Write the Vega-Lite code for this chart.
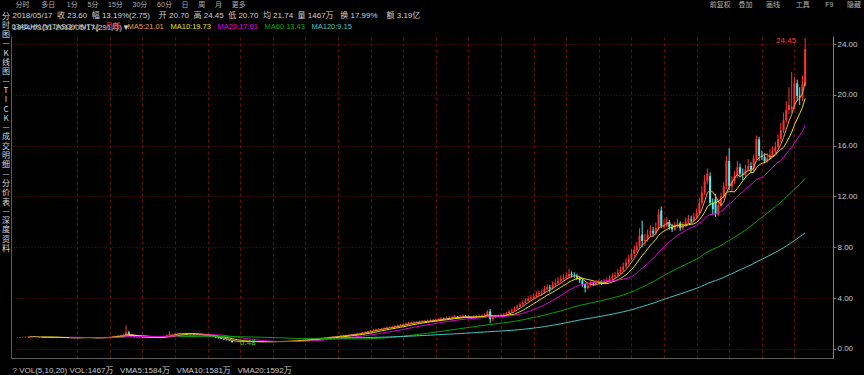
{
"$schema":"https://vega.github.io/schema/vega-lite/v6.json",
"width":822,"height":322,
"autosize":{"type":"none"},
"padding":{"left":11,"top":36,"right":31,"bottom":17},
"background":"#000000",
"config":{"view":{"stroke":null},"font":"Liberation Sans"},
"data":{"values":[
{"d":"1994-03","o":0.86,"h":0.90,"l":0.85,"c":0.88},
{"d":"1994-04","o":0.88,"h":0.94,"l":0.87,"c":0.92},
{"d":"1994-05","o":0.92,"h":0.97,"l":0.91,"c":0.95},
{"d":"1994-06","o":0.95,"h":0.96,"l":0.91,"c":0.93},
{"d":"1994-07","o":0.93,"h":0.99,"l":0.92,"c":0.97},
{"d":"1994-08","o":0.97,"h":1.03,"l":0.96,"c":1.00},
{"d":"1994-09","o":1.00,"h":1.01,"l":0.95,"c":0.96},
{"d":"1994-10","o":0.96,"h":0.97,"l":0.93,"c":0.94},
{"d":"1994-11","o":0.94,"h":0.95,"l":0.91,"c":0.92},
{"d":"1994-12","o":0.92,"h":0.93,"l":0.89,"c":0.90},
{"d":"1995-01","o":0.89,"h":0.92,"l":0.88,"c":0.90},
{"d":"1995-02","o":0.90,"h":0.93,"l":0.89,"c":0.92},
{"d":"1995-03","o":0.92,"h":0.96,"l":0.91,"c":0.94},
{"d":"1995-04","o":0.94,"h":0.95,"l":0.92,"c":0.93},
{"d":"1995-05","o":0.93,"h":0.94,"l":0.90,"c":0.91},
{"d":"1995-06","o":0.91,"h":0.92,"l":0.89,"c":0.90},
{"d":"1995-07","o":0.90,"h":0.91,"l":0.88,"c":0.89},
{"d":"1995-08","o":0.89,"h":0.92,"l":0.88,"c":0.90},
{"d":"1995-09","o":0.90,"h":0.91,"l":0.87,"c":0.88},
{"d":"1995-10","o":0.88,"h":0.89,"l":0.86,"c":0.87},
{"d":"1995-11","o":0.87,"h":0.88,"l":0.85,"c":0.86},
{"d":"1995-12","o":0.86,"h":0.89,"l":0.85,"c":0.88},
{"d":"1996-01","o":0.88,"h":0.91,"l":0.87,"c":0.89},
{"d":"1996-02","o":0.89,"h":0.92,"l":0.88,"c":0.90},
{"d":"1996-03","o":0.90,"h":0.94,"l":0.89,"c":0.92},
{"d":"1996-04","o":0.92,"h":0.93,"l":0.90,"c":0.91},
{"d":"1996-05","o":0.91,"h":0.92,"l":0.89,"c":0.90},
{"d":"1996-06","o":0.90,"h":0.91,"l":0.87,"c":0.88},
{"d":"1996-07","o":0.88,"h":0.89,"l":0.86,"c":0.87},
{"d":"1996-08","o":0.87,"h":0.88,"l":0.85,"c":0.86},
{"d":"1996-09","o":0.86,"h":0.89,"l":0.85,"c":0.88},
{"d":"1996-10","o":0.88,"h":0.92,"l":0.87,"c":0.90},
{"d":"1996-11","o":0.90,"h":0.93,"l":0.89,"c":0.91},
{"d":"1996-12","o":0.91,"h":0.95,"l":0.90,"c":0.93},
{"d":"1997-01","o":0.93,"h":0.97,"l":0.92,"c":0.95},
{"d":"1997-02","o":0.95,"h":1.00,"l":0.94,"c":0.98},
{"d":"1997-03","o":0.98,"h":1.05,"l":0.97,"c":1.02},
{"d":"1997-04","o":1.02,"h":1.08,"l":1.00,"c":1.05},
{"d":"1997-05","o":1.05,"h":1.12,"l":1.03,"c":1.08},
{"d":"1997-06","o":1.08,"h":1.18,"l":1.06,"c":1.12},
{"d":"1997-07","o":1.12,"h":1.85,"l":1.10,"c":1.30},
{"d":"1997-08","o":1.30,"h":1.42,"l":1.08,"c":1.15},
{"d":"1997-09","o":1.15,"h":1.18,"l":0.98,"c":1.02},
{"d":"1997-10","o":1.02,"h":1.05,"l":0.90,"c":0.95},
{"d":"1997-11","o":0.95,"h":0.98,"l":0.91,"c":0.93},
{"d":"1997-12","o":0.93,"h":0.95,"l":0.90,"c":0.92},
{"d":"1998-01","o":0.92,"h":0.94,"l":0.87,"c":0.90},
{"d":"1998-02","o":0.90,"h":0.94,"l":0.89,"c":0.92},
{"d":"1998-03","o":0.92,"h":0.93,"l":0.88,"c":0.90},
{"d":"1998-04","o":0.90,"h":0.91,"l":0.86,"c":0.88},
{"d":"1998-05","o":0.88,"h":0.92,"l":0.87,"c":0.90},
{"d":"1998-06","o":0.90,"h":0.94,"l":0.89,"c":0.92},
{"d":"1998-07","o":0.92,"h":0.96,"l":0.91,"c":0.94},
{"d":"1998-08","o":0.94,"h":0.95,"l":0.90,"c":0.93},
{"d":"1998-09","o":0.93,"h":1.03,"l":0.92,"c":1.00},
{"d":"1998-10","o":1.00,"h":1.12,"l":0.99,"c":1.08},
{"d":"1998-11","o":1.08,"h":1.40,"l":1.06,"c":1.15},
{"d":"1998-12","o":1.15,"h":1.22,"l":1.12,"c":1.18},
{"d":"1999-01","o":1.18,"h":1.24,"l":1.15,"c":1.20},
{"d":"1999-02","o":1.20,"h":1.26,"l":1.17,"c":1.22},
{"d":"1999-03","o":1.22,"h":1.24,"l":1.15,"c":1.18},
{"d":"1999-04","o":1.18,"h":1.24,"l":1.16,"c":1.20},
{"d":"1999-05","o":1.20,"h":1.30,"l":1.18,"c":1.25},
{"d":"1999-06","o":1.25,"h":1.27,"l":1.19,"c":1.22},
{"d":"1999-07","o":1.22,"h":1.23,"l":1.15,"c":1.18},
{"d":"1999-08","o":1.18,"h":1.20,"l":1.12,"c":1.15},
{"d":"1999-09","o":1.15,"h":1.17,"l":1.09,"c":1.12},
{"d":"1999-10","o":1.12,"h":1.14,"l":1.07,"c":1.10},
{"d":"1999-11","o":1.10,"h":1.12,"l":1.05,"c":1.08},
{"d":"1999-12","o":1.08,"h":1.10,"l":1.02,"c":1.05},
{"d":"2000-01","o":1.05,"h":1.08,"l":0.99,"c":1.02},
{"d":"2000-02","o":1.02,"h":1.04,"l":0.95,"c":0.98},
{"d":"2000-03","o":0.98,"h":1.00,"l":0.92,"c":0.95},
{"d":"2000-04","o":0.95,"h":0.97,"l":0.87,"c":0.90},
{"d":"2000-05","o":0.90,"h":0.92,"l":0.82,"c":0.85},
{"d":"2000-06","o":0.85,"h":0.87,"l":0.77,"c":0.80},
{"d":"2000-07","o":0.80,"h":0.82,"l":0.72,"c":0.75},
{"d":"2000-08","o":0.75,"h":0.77,"l":0.67,"c":0.70},
{"d":"2000-09","o":0.70,"h":0.72,"l":0.62,"c":0.65},
{"d":"2000-10","o":0.65,"h":0.67,"l":0.48,"c":0.55},
{"d":"2000-11","o":0.55,"h":0.59,"l":0.52,"c":0.56},
{"d":"2000-12","o":0.56,"h":0.61,"l":0.54,"c":0.58},
{"d":"2001-01","o":0.57,"h":0.61,"l":0.56,"c":0.58},
{"d":"2001-02","o":0.58,"h":0.63,"l":0.57,"c":0.60},
{"d":"2001-03","o":0.60,"h":0.65,"l":0.59,"c":0.62},
{"d":"2001-04","o":0.62,"h":0.63,"l":0.58,"c":0.60},
{"d":"2001-05","o":0.60,"h":0.61,"l":0.56,"c":0.58},
{"d":"2001-06","o":0.58,"h":0.59,"l":0.55,"c":0.57},
{"d":"2001-07","o":0.57,"h":0.58,"l":0.54,"c":0.56},
{"d":"2001-08","o":0.56,"h":0.57,"l":0.53,"c":0.55},
{"d":"2001-09","o":0.55,"h":0.58,"l":0.53,"c":0.56},
{"d":"2001-10","o":0.56,"h":0.59,"l":0.55,"c":0.57},
{"d":"2001-11","o":0.57,"h":0.60,"l":0.56,"c":0.58},
{"d":"2001-12","o":0.59,"h":0.60,"l":0.56,"c":0.58},
{"d":"2002-01","o":0.58,"h":0.61,"l":0.57,"c":0.59},
{"d":"2002-02","o":0.59,"h":0.62,"l":0.58,"c":0.60},
{"d":"2002-03","o":0.60,"h":0.63,"l":0.59,"c":0.61},
{"d":"2002-04","o":0.61,"h":0.62,"l":0.58,"c":0.60},
{"d":"2002-05","o":0.60,"h":0.61,"l":0.57,"c":0.59},
{"d":"2002-06","o":0.59,"h":0.62,"l":0.58,"c":0.60},
{"d":"2002-07","o":0.60,"h":0.64,"l":0.59,"c":0.62},
{"d":"2002-08","o":0.62,"h":0.66,"l":0.61,"c":0.64},
{"d":"2002-09","o":0.64,"h":0.68,"l":0.63,"c":0.66},
{"d":"2002-10","o":0.66,"h":0.70,"l":0.65,"c":0.68},
{"d":"2002-11","o":0.68,"h":0.72,"l":0.67,"c":0.70},
{"d":"2002-12","o":0.70,"h":0.74,"l":0.69,"c":0.72},
{"d":"2003-01","o":0.72,"h":0.76,"l":0.71,"c":0.74},
{"d":"2003-02","o":0.74,"h":0.78,"l":0.73,"c":0.76},
{"d":"2003-03","o":0.76,"h":0.80,"l":0.74,"c":0.78},
{"d":"2003-04","o":0.78,"h":0.82,"l":0.76,"c":0.80},
{"d":"2003-05","o":0.80,"h":0.85,"l":0.79,"c":0.83},
{"d":"2003-06","o":0.83,"h":0.88,"l":0.82,"c":0.86},
{"d":"2003-07","o":0.86,"h":0.90,"l":0.84,"c":0.88},
{"d":"2003-08","o":0.88,"h":0.92,"l":0.86,"c":0.90},
{"d":"2003-09","o":0.90,"h":0.94,"l":0.88,"c":0.92},
{"d":"2003-10","o":0.92,"h":0.97,"l":0.91,"c":0.95},
{"d":"2003-11","o":0.95,"h":1.00,"l":0.93,"c":0.98},
{"d":"2003-12","o":0.98,"h":1.02,"l":0.96,"c":1.00},
{"d":"2004-01","o":1.00,"h":1.05,"l":0.98,"c":1.02},
{"d":"2004-02","o":1.02,"h":1.08,"l":1.00,"c":1.05},
{"d":"2004-03","o":1.05,"h":1.11,"l":1.03,"c":1.08},
{"d":"2004-04","o":1.08,"h":1.13,"l":1.05,"c":1.10},
{"d":"2004-05","o":1.10,"h":1.15,"l":1.07,"c":1.12},
{"d":"2004-06","o":1.12,"h":1.18,"l":1.10,"c":1.15},
{"d":"2004-07","o":1.15,"h":1.21,"l":1.13,"c":1.18},
{"d":"2004-08","o":1.18,"h":1.25,"l":1.16,"c":1.22},
{"d":"2004-09","o":1.22,"h":1.28,"l":1.20,"c":1.25},
{"d":"2004-10","o":1.25,"h":1.34,"l":1.23,"c":1.30},
{"d":"2004-11","o":1.30,"h":1.39,"l":1.28,"c":1.35},
{"d":"2004-12","o":1.35,"h":1.44,"l":1.33,"c":1.40},
{"d":"2005-01","o":1.40,"h":1.49,"l":1.37,"c":1.45},
{"d":"2005-02","o":1.45,"h":1.55,"l":1.42,"c":1.50},
{"d":"2005-03","o":1.50,"h":1.60,"l":1.47,"c":1.55},
{"d":"2005-04","o":1.55,"h":1.63,"l":1.51,"c":1.58},
{"d":"2005-05","o":1.58,"h":1.66,"l":1.54,"c":1.60},
{"d":"2005-06","o":1.60,"h":1.70,"l":1.57,"c":1.65},
{"d":"2005-07","o":1.65,"h":1.76,"l":1.62,"c":1.70},
{"d":"2005-08","o":1.70,"h":1.78,"l":1.66,"c":1.72},
{"d":"2005-09","o":1.72,"h":1.81,"l":1.68,"c":1.75},
{"d":"2005-10","o":1.75,"h":1.86,"l":1.71,"c":1.80},
{"d":"2005-11","o":1.80,"h":1.91,"l":1.76,"c":1.85},
{"d":"2005-12","o":1.85,"h":1.96,"l":1.81,"c":1.90},
{"d":"2006-01","o":1.90,"h":2.02,"l":1.86,"c":1.95},
{"d":"2006-02","o":1.95,"h":2.07,"l":1.90,"c":2.00},
{"d":"2006-03","o":2.00,"h":2.12,"l":1.95,"c":2.05},
{"d":"2006-04","o":2.05,"h":2.15,"l":2.00,"c":2.08},
{"d":"2006-05","o":2.08,"h":2.18,"l":2.02,"c":2.10},
{"d":"2006-06","o":2.10,"h":2.20,"l":2.04,"c":2.12},
{"d":"2006-07","o":2.12,"h":2.23,"l":2.06,"c":2.15},
{"d":"2006-08","o":2.15,"h":2.26,"l":2.10,"c":2.18},
{"d":"2006-09","o":2.18,"h":2.28,"l":2.12,"c":2.20},
{"d":"2006-10","o":2.20,"h":2.31,"l":2.14,"c":2.22},
{"d":"2006-11","o":2.22,"h":2.34,"l":2.16,"c":2.25},
{"d":"2006-12","o":2.25,"h":2.37,"l":2.19,"c":2.28},
{"d":"2007-01","o":2.28,"h":2.40,"l":2.22,"c":2.30},
{"d":"2007-02","o":2.30,"h":2.45,"l":2.24,"c":2.35},
{"d":"2007-03","o":2.35,"h":2.52,"l":2.29,"c":2.40},
{"d":"2007-04","o":2.40,"h":2.48,"l":2.31,"c":2.38},
{"d":"2007-05","o":2.38,"h":2.54,"l":2.33,"c":2.42},
{"d":"2007-06","o":2.42,"h":2.58,"l":2.36,"c":2.45},
{"d":"2007-07","o":2.45,"h":2.64,"l":2.40,"c":2.50},
{"d":"2007-08","o":2.50,"h":2.70,"l":2.44,"c":2.55},
{"d":"2007-09","o":2.55,"h":2.60,"l":2.38,"c":2.48},
{"d":"2007-10","o":2.48,"h":2.65,"l":2.42,"c":2.52},
{"d":"2007-11","o":2.52,"h":2.72,"l":2.47,"c":2.58},
{"d":"2007-12","o":2.58,"h":2.66,"l":2.46,"c":2.55},
{"d":"2008-01","o":2.55,"h":2.62,"l":2.40,"c":2.50},
{"d":"2008-02","o":2.50,"h":2.56,"l":2.36,"c":2.45},
{"d":"2008-03","o":2.45,"h":2.63,"l":2.40,"c":2.52},
{"d":"2008-04","o":2.52,"h":2.66,"l":2.47,"c":2.55},
{"d":"2008-05","o":2.55,"h":2.72,"l":2.50,"c":2.60},
{"d":"2008-06","o":2.60,"h":2.74,"l":2.54,"c":2.63},
{"d":"2008-07","o":2.63,"h":2.80,"l":2.58,"c":2.67},
{"d":"2008-08","o":2.67,"h":3.05,"l":2.62,"c":2.95},
{"d":"2008-09","o":2.95,"h":3.15,"l":2.05,"c":2.35},
{"d":"2008-10","o":2.35,"h":2.62,"l":2.20,"c":2.50},
{"d":"2008-11","o":2.50,"h":2.66,"l":2.42,"c":2.55},
{"d":"2008-12","o":2.55,"h":2.70,"l":2.48,"c":2.60},
{"d":"2009-01","o":2.60,"h":2.76,"l":2.52,"c":2.65},
{"d":"2009-02","o":2.65,"h":2.82,"l":2.56,"c":2.70},
{"d":"2009-03","o":2.70,"h":2.92,"l":2.62,"c":2.80},
{"d":"2009-04","o":2.80,"h":3.08,"l":2.74,"c":2.95},
{"d":"2009-05","o":2.95,"h":3.18,"l":2.88,"c":3.05},
{"d":"2009-06","o":3.05,"h":3.34,"l":2.98,"c":3.20},
{"d":"2009-07","o":3.20,"h":3.50,"l":3.12,"c":3.35},
{"d":"2009-08","o":3.35,"h":3.66,"l":3.27,"c":3.50},
{"d":"2009-09","o":3.50,"h":3.82,"l":3.42,"c":3.65},
{"d":"2009-10","o":3.65,"h":3.98,"l":3.56,"c":3.80},
{"d":"2009-11","o":3.80,"h":4.15,"l":3.72,"c":3.95},
{"d":"2009-12","o":3.95,"h":4.26,"l":3.85,"c":4.05},
{"d":"2010-01","o":4.05,"h":4.38,"l":3.94,"c":4.15},
{"d":"2010-02","o":4.15,"h":4.52,"l":4.06,"c":4.30},
{"d":"2010-03","o":4.30,"h":4.62,"l":4.20,"c":4.40},
{"d":"2010-04","o":4.40,"h":4.70,"l":4.18,"c":4.45},
{"d":"2010-05","o":4.45,"h":4.95,"l":4.36,"c":4.70},
{"d":"2010-06","o":4.70,"h":5.10,"l":4.60,"c":4.85},
{"d":"2010-07","o":4.85,"h":5.05,"l":4.45,"c":4.75},
{"d":"2010-08","o":4.75,"h":5.30,"l":4.66,"c":5.05},
{"d":"2010-09","o":5.05,"h":5.48,"l":4.95,"c":5.20},
{"d":"2010-10","o":5.20,"h":5.65,"l":5.08,"c":5.35},
{"d":"2010-11","o":5.35,"h":5.80,"l":5.22,"c":5.50},
{"d":"2010-12","o":5.50,"h":5.88,"l":5.38,"c":5.60},
{"d":"2011-01","o":5.60,"h":6.02,"l":5.46,"c":5.70},
{"d":"2011-02","o":5.70,"h":6.30,"l":5.58,"c":5.90},
{"d":"2011-03","o":5.90,"h":6.10,"l":5.62,"c":5.80},
{"d":"2011-04","o":5.80,"h":6.05,"l":5.60,"c":5.75},
{"d":"2011-05","o":5.75,"h":5.92,"l":5.42,"c":5.60},
{"d":"2011-06","o":5.60,"h":5.72,"l":5.20,"c":5.40},
{"d":"2011-07","o":5.40,"h":5.52,"l":4.90,"c":5.10},
{"d":"2011-08","o":5.10,"h":5.20,"l":4.45,"c":4.80},
{"d":"2011-09","o":4.80,"h":5.22,"l":4.68,"c":5.00},
{"d":"2011-10","o":5.00,"h":5.38,"l":4.90,"c":5.15},
{"d":"2011-11","o":5.15,"h":5.30,"l":4.95,"c":5.10},
{"d":"2011-12","o":5.10,"h":5.42,"l":5.02,"c":5.20},
{"d":"2012-01","o":5.20,"h":5.48,"l":5.10,"c":5.25},
{"d":"2012-02","o":5.25,"h":5.40,"l":5.02,"c":5.15},
{"d":"2012-03","o":5.15,"h":5.52,"l":5.08,"c":5.30},
{"d":"2012-04","o":5.30,"h":5.62,"l":5.20,"c":5.40},
{"d":"2012-05","o":5.40,"h":5.78,"l":5.30,"c":5.55},
{"d":"2012-06","o":5.55,"h":5.95,"l":5.45,"c":5.70},
{"d":"2012-07","o":5.70,"h":6.05,"l":5.58,"c":5.80},
{"d":"2012-08","o":5.80,"h":6.28,"l":5.70,"c":6.00},
{"d":"2012-09","o":6.00,"h":6.48,"l":5.88,"c":6.20},
{"d":"2012-10","o":6.20,"h":6.80,"l":6.10,"c":6.50},
{"d":"2012-11","o":6.50,"h":7.12,"l":6.38,"c":6.80},
{"d":"2012-12","o":6.80,"h":7.42,"l":6.66,"c":7.10},
{"d":"2013-01","o":7.10,"h":7.85,"l":6.98,"c":7.50},
{"d":"2013-02","o":7.50,"h":8.15,"l":7.30,"c":7.80},
{"d":"2013-03","o":7.80,"h":8.45,"l":7.62,"c":8.10},
{"d":"2013-04","o":8.10,"h":9.50,"l":7.95,"c":8.90},
{"d":"2013-05","o":9.00,"h":10.10,"l":8.00,"c":8.50},
{"d":"2013-06","o":8.50,"h":9.05,"l":8.10,"c":8.60},
{"d":"2013-07","o":8.60,"h":9.40,"l":8.45,"c":9.00},
{"d":"2013-08","o":9.00,"h":9.75,"l":8.80,"c":9.30},
{"d":"2013-09","o":9.30,"h":9.60,"l":8.85,"c":9.10},
{"d":"2013-10","o":9.10,"h":9.95,"l":8.95,"c":9.50},
{"d":"2013-11","o":9.50,"h":11.00,"l":9.40,"c":10.60},
{"d":"2013-12","o":10.90,"h":11.20,"l":9.50,"c":9.70},
{"d":"2014-01","o":9.60,"h":10.20,"l":9.45,"c":9.70},
{"d":"2014-02","o":9.70,"h":10.40,"l":9.55,"c":10.00},
{"d":"2014-03","o":10.00,"h":10.15,"l":9.40,"c":9.60},
{"d":"2014-04","o":9.60,"h":9.85,"l":9.20,"c":9.40},
{"d":"2014-05","o":9.40,"h":10.00,"l":9.30,"c":9.70},
{"d":"2014-06","o":9.70,"h":10.25,"l":9.55,"c":9.90},
{"d":"2014-07","o":9.90,"h":10.05,"l":9.30,"c":9.50},
{"d":"2014-08","o":9.50,"h":10.00,"l":9.35,"c":9.70},
{"d":"2014-09","o":9.70,"h":10.35,"l":9.60,"c":10.00},
{"d":"2014-10","o":10.00,"h":10.55,"l":9.85,"c":10.20},
{"d":"2014-11","o":10.20,"h":10.50,"l":9.90,"c":10.10},
{"d":"2014-12","o":10.10,"h":10.70,"l":9.95,"c":10.40},
{"d":"2015-01","o":10.40,"h":11.05,"l":10.25,"c":10.70},
{"d":"2015-02","o":10.70,"h":11.90,"l":10.55,"c":11.50},
{"d":"2015-03","o":11.50,"h":12.80,"l":11.35,"c":12.30},
{"d":"2015-04","o":12.30,"h":13.70,"l":12.10,"c":13.20},
{"d":"2015-05","o":13.20,"h":14.20,"l":12.95,"c":13.80},
{"d":"2015-06","o":13.60,"h":13.90,"l":11.30,"c":11.50},
{"d":"2015-07","o":11.50,"h":11.85,"l":10.60,"c":11.00},
{"d":"2015-08","o":11.80,"h":12.20,"l":10.40,"c":10.60},
{"d":"2015-09","o":10.60,"h":11.60,"l":10.45,"c":11.30},
{"d":"2015-10","o":11.30,"h":12.30,"l":11.15,"c":12.00},
{"d":"2015-11","o":12.00,"h":13.10,"l":11.85,"c":12.80},
{"d":"2015-12","o":12.80,"h":15.20,"l":12.60,"c":14.80},
{"d":"2016-01","o":14.80,"h":15.80,"l":12.50,"c":12.80},
{"d":"2016-02","o":12.80,"h":13.60,"l":12.40,"c":13.20},
{"d":"2016-03","o":13.20,"h":14.00,"l":13.00,"c":13.60},
{"d":"2016-04","o":13.60,"h":14.80,"l":13.45,"c":14.30},
{"d":"2016-05","o":14.30,"h":14.60,"l":13.50,"c":13.80},
{"d":"2016-06","o":13.80,"h":14.20,"l":13.30,"c":13.70},
{"d":"2016-07","o":13.70,"h":14.50,"l":13.55,"c":14.10},
{"d":"2016-08","o":14.10,"h":14.95,"l":13.95,"c":14.40},
{"d":"2016-09","o":14.40,"h":14.70,"l":13.85,"c":14.10},
{"d":"2016-10","o":14.10,"h":15.30,"l":13.95,"c":15.00},
{"d":"2016-11","o":15.00,"h":16.80,"l":14.85,"c":16.50},
{"d":"2016-12","o":16.50,"h":16.70,"l":14.80,"c":15.20},
{"d":"2017-01","o":15.20,"h":15.60,"l":14.85,"c":15.10},
{"d":"2017-02","o":15.10,"h":15.40,"l":14.60,"c":14.80},
{"d":"2017-03","o":14.80,"h":15.40,"l":14.65,"c":15.00},
{"d":"2017-04","o":15.00,"h":15.70,"l":14.85,"c":15.30},
{"d":"2017-05","o":15.30,"h":15.95,"l":15.10,"c":15.60},
{"d":"2017-06","o":15.60,"h":16.30,"l":15.40,"c":15.90},
{"d":"2017-07","o":15.90,"h":16.90,"l":15.70,"c":16.50},
{"d":"2017-08","o":16.50,"h":17.80,"l":16.30,"c":17.20},
{"d":"2017-09","o":17.20,"h":18.60,"l":17.00,"c":18.00},
{"d":"2017-10","o":18.00,"h":19.50,"l":17.80,"c":18.80},
{"d":"2017-11","o":18.80,"h":20.60,"l":18.50,"c":19.20},
{"d":"2017-12","o":18.90,"h":21.80,"l":18.60,"c":19.05},
{"d":"2018-01","o":19.05,"h":21.40,"l":18.90,"c":20.90},
{"d":"2018-02","o":20.90,"h":21.20,"l":19.50,"c":19.90},
{"d":"2018-03","o":19.90,"h":20.60,"l":19.20,"c":19.80},
{"d":"2018-04","o":19.80,"h":21.50,"l":19.50,"c":20.85},
{"d":"2018-05","o":20.70,"h":24.45,"l":20.70,"c":23.60}
]},
"layer":[
{"mark":{"type":"rule","strokeWidth":1},
 "encoding":{
  "x":{"field":"d","type":"temporal",
       "scale":{"type":"utc","domain":[{"year":1994,"month":2,"date":14,"utc":true},{"year":2019,"month":1,"date":12,"utc":true}]},
       "axis":{"orient":"top","values":[{"year":1996,"month":1,"date":1,"utc":true},{"year":1997,"month":1,"date":1,"utc":true},{"year":1998,"month":1,"date":1,"utc":true},{"year":1999,"month":1,"date":1,"utc":true},{"year":2000,"month":1,"date":1,"utc":true},{"year":2001,"month":1,"date":1,"utc":true},{"year":2002,"month":1,"date":1,"utc":true},{"year":2003,"month":1,"date":1,"utc":true},{"year":2004,"month":1,"date":1,"utc":true},{"year":2005,"month":1,"date":1,"utc":true},{"year":2006,"month":1,"date":1,"utc":true},{"year":2007,"month":1,"date":1,"utc":true},{"year":2008,"month":1,"date":1,"utc":true},{"year":2009,"month":1,"date":1,"utc":true},{"year":2010,"month":1,"date":1,"utc":true},{"year":2011,"month":1,"date":1,"utc":true},{"year":2012,"month":1,"date":1,"utc":true},{"year":2013,"month":1,"date":1,"utc":true},{"year":2014,"month":1,"date":1,"utc":true},{"year":2015,"month":1,"date":1,"utc":true},{"year":2016,"month":1,"date":1,"utc":true},{"year":2017,"month":1,"date":1,"utc":true},{"year":2018,"month":1,"date":1,"utc":true}],
               "grid":true,"gridColor":"#6a0c0c","gridDash":[3,3],"gridWidth":1,"labels":false,"ticks":false,"domain":false,
               "title":["2018/05/17\u00a0\u00a0收\u00a023.60\u00a0\u00a0幅\u00a013.19%(2.75)\u00a0\u00a0\u00a0\u00a0开\u00a020.70\u00a0\u00a0高\u00a024.45\u00a0\u00a0低\u00a020.70\u00a0\u00a0均\u00a021.74\u00a0\u00a0量\u00a01467万\u00a0\u00a0\u00a0换\u00a017.99%\u00a0\u00a0\u00a0\u00a0额\u00a03.19亿",
                        "\u3000\u3000\u3000\u3000\u3000\u3000\u3000\u3000\u3000\u3000\u3000\u3000\u3000\u3000\u3000\u3000\u3000\u3000\u3000\u3000\u3000\u3000\u3000\u3000\u3000\u3000\u3000\u3000\u3000\u3000\u3000\u3000\u3000\u3000\u3000\u3000\u3000\u3000\u3000\u3000\u3000\u3000\u3000\u3000\u3000\u3000\u3000\u3000\u3000\u3000\u3000\u3000\u3000\u3000\u3000\u3000\u3000\u3000\u3000\u3000\u3000\u3000\u3000\u3000\u3000\u3000\u3000\u3000\u3000\u3000\u3000\u3000\u3000\u3000\u3000\u3000\u3000\u3000\u3000\u3000\u3000\u3000\u3000\u3000\u3000\u3000\u00a0\u00a0\u00a01994/03/31-2018/05/17(291月)▼"],
               "titleX":1,"titleY":-25,"titleAlign":"left","titleBaseline":"top","titleLineHeight":12,"titleColor":"#d0d0d0","titleFont":"Liberation Sans, Noto Sans CJK SC","titleFontSize":8,"titleFontWeight":"normal","titleLimit":2000}},
  "y":{"field":"l","type":"quantitative",
       "scale":{"domain":[-0.71,24.63],"nice":false,"zero":false},
       "axis":{"orient":"right","values":[0,4,8,12,16,20,24],"format":".2f","grid":true,"gridColor":"#6a0c0c","gridDash":[1,2],"gridWidth":1,
               "labelColor":"#c8c8c8","labelFontSize":8,"labelFont":"Liberation Sans","labelPadding":1,"tickSize":3,"tickColor":"#808080","domainColor":"#808080",
               "title":"分时\u00a0\u00a0\u00a0\u00a0\u00a0\u00a0多日\u00a0\u00a0\u00a0\u00a0\u00a0\u00a01分\u00a0\u00a0\u00a0\u00a0\u00a05分\u00a0\u00a0\u00a0\u00a0\u00a015分\u00a0\u00a0\u00a0\u00a0\u00a030分\u00a0\u00a0\u00a0\u00a0\u00a060分\u00a0\u00a0\u00a0\u00a0\u00a0日\u00a0\u00a0\u00a0\u00a0\u00a0周\u00a0\u00a0\u00a0\u00a0\u00a0月\u00a0\u00a0\u00a0\u00a0\u00a0更多\u3000\u3000\u3000\u3000\u3000\u3000\u3000\u3000\u3000\u3000\u3000\u3000\u3000\u3000\u3000\u3000\u3000\u3000\u3000\u3000\u3000\u3000\u3000\u3000\u3000\u3000\u3000\u3000\u3000\u3000\u3000\u3000\u3000\u3000\u3000\u3000\u3000\u3000\u3000\u3000\u3000\u3000\u3000\u3000\u3000\u3000\u3000\u3000\u3000\u3000\u3000\u3000\u3000\u3000\u3000\u3000\u3000\u3000\u3000\u3000\u3000\u3000\u3000\u3000\u3000\u3000\u00a0前复权\u00a0\u00a0\u00a0\u00a0叠加\u00a0\u00a0\u00a0\u00a0\u00a0\u00a0\u00a0画线\u00a0\u00a0\u00a0\u00a0\u00a0\u00a0\u00a0\u00a0工具\u00a0\u00a0\u00a0\u00a0\u00a0\u00a0\u00a0\u00a0F9\u00a0\u00a0\u00a0\u00a0\u00a0\u00a0\u00a0隐藏",
               "titleAngle":0,"titleX":-818,"titleY":-31.5,"titleAlign":"left","titleBaseline":"middle","titleColor":"#b4b4b4","titleFont":"Liberation Sans, Noto Sans CJK SC","titleFontSize":7,"titleFontWeight":"normal","titleLimit":2000}},
  "y2":{"field":"h"},
  "color":{"condition":{"test":"datum.c >= datum.o","value":"#ff3030"},"value":"#50f0f0"}
 }},
{"mark":{"type":"bar","size":2},
 "encoding":{
  "x":{"field":"d","type":"temporal","axis":{"orient":"bottom","labels":false,"ticks":false,"grid":false,"domain":true,"domainColor":"#5a5a5a",
       "title":"?\u00a0VOL(5,10,20)\u00a0VOL:1467万\u00a0\u00a0\u00a0VMA5:1584万\u00a0\u00a0\u00a0VMA10:1581万\u00a0\u00a0\u00a0VMA20:1592万",
       "titleX":1,"titleY":12,"titleAlign":"left","titleBaseline":"middle","titleColor":"#c8c8c8","titleFont":"Liberation Sans, Noto Sans CJK SC","titleFontSize":8,"titleFontWeight":"normal"}},
  "y":{"field":"o","type":"quantitative",
       "axis":{"orient":"left","labels":false,"ticks":false,"grid":false,"domain":true,"domainColor":"#5a5a5a",
               "title":["分","时","图","—","K","线","图","—","T","I","C","K","—","成","交","明","细","—","分","价","表","—","深","度","资","料"],
               "titleAngle":0,"titleX":-5.5,"titleY":-24,"titleAlign":"center","titleBaseline":"top","titleColor":"#d8d8d8","titleFont":"Noto Sans CJK SC","titleFontSize":8,"titleLineHeight":9.3,"titleFontWeight":"normal"}},
  "y2":{"field":"c"},
  "color":{"condition":{"test":"datum.c >= datum.o","value":"#ff3030"},"value":"#50f0f0"}
 }},
{"transform":[{"window":[{"op":"mean","field":"c","as":"m"},{"op":"count","as":"n"}],"frame":[-4,0],"sort":[{"field":"d"}]},{"filter":"datum.n >= 5"}],
 "mark":{"type":"line","strokeWidth":1},
 "encoding":{
  "x":{"field":"d","type":"temporal","axis":null},
  "y":{"field":"m","type":"quantitative","axis":null},
  "color":{"datum":"MA5:21.01","type":"nominal",
    "scale":{"domain":["0345.HK [VITASOY INT'L]","月线","MA5:21.01","MA10:19.73","MA20:17.61","MA60:13.43","MA120:9.15"],
             "range":["#c8c8c8","#ff4040","#e8a050","#e6e600","#e000e0","#00a800","#48c8c8"]},
    "legend":{"orient":"none","legendX":1,"legendY":-13,"direction":"horizontal","title":null,
              "symbolSize":0,"symbolStrokeWidth":0,"symbolOpacity":0,"labelOffset":-8,"columnPadding":6,
              "labelFont":"Liberation Sans, Noto Sans CJK SC","labelFontSize":7.5,"labelLimit":400,
              "encode":{"labels":{"update":{"fill":{"scale":"color","field":"value"}}}}}}
 }},
{"transform":[{"window":[{"op":"mean","field":"c","as":"m"},{"op":"count","as":"n"}],"frame":[-9,0],"sort":[{"field":"d"}]},{"filter":"datum.n >= 10"}],
 "mark":{"type":"line","strokeWidth":1},
 "encoding":{
  "x":{"field":"d","type":"temporal","axis":null},
  "y":{"field":"m","type":"quantitative","axis":null},
  "color":{"datum":"MA10:19.73","type":"nominal"}
 }},
{"transform":[{"window":[{"op":"mean","field":"c","as":"m"},{"op":"count","as":"n"}],"frame":[-19,0],"sort":[{"field":"d"}]},{"filter":"datum.n >= 20"}],
 "mark":{"type":"line","strokeWidth":1},
 "encoding":{
  "x":{"field":"d","type":"temporal","axis":null},
  "y":{"field":"m","type":"quantitative","axis":null},
  "color":{"datum":"MA20:17.61","type":"nominal"}
 }},
{"transform":[{"window":[{"op":"mean","field":"c","as":"m"},{"op":"count","as":"n"}],"frame":[-59,0],"sort":[{"field":"d"}]},{"filter":"datum.n >= 60"}],
 "mark":{"type":"line","strokeWidth":1},
 "encoding":{
  "x":{"field":"d","type":"temporal","axis":null},
  "y":{"field":"m","type":"quantitative","axis":null},
  "color":{"datum":"MA60:13.43","type":"nominal"}
 }},
{"transform":[{"window":[{"op":"mean","field":"c","as":"m"},{"op":"count","as":"n"}],"frame":[-119,0],"sort":[{"field":"d"}]},{"filter":"datum.n >= 120"}],
 "mark":{"type":"line","strokeWidth":1},
 "encoding":{
  "x":{"field":"d","type":"temporal","axis":null},
  "y":{"field":"m","type":"quantitative","axis":null},
  "color":{"datum":"MA120:9.15","type":"nominal"}
 }},
{"transform":[{"joinaggregate":[{"op":"max","field":"h","as":"hm"}]},{"filter":"datum.h === datum.hm"}],
 "mark":{"type":"text","align":"right","baseline":"middle","dx":-9,"dy":3,"fontSize":8,"font":"Liberation Sans","color":"#ff4040"},
 "encoding":{
  "x":{"field":"d","type":"temporal","axis":null},
  "y":{"field":"h","type":"quantitative","axis":null},
  "text":{"field":"h","type":"quantitative","format":".2f"}
 }},
{"transform":[{"joinaggregate":[{"op":"min","field":"l","as":"lm"}]},{"filter":"datum.l === datum.lm"}],
 "mark":{"type":"text","align":"left","baseline":"middle","dx":8,"dy":0,"fontSize":8,"font":"Liberation Sans","color":"#40d040"},
 "encoding":{
  "x":{"field":"d","type":"temporal","axis":null},
  "y":{"field":"l","type":"quantitative","axis":null},
  "text":{"field":"l","type":"quantitative","format":".2f"}
 }}
],
"resolve":{"axis":{"x":"independent","y":"independent"}}
}
